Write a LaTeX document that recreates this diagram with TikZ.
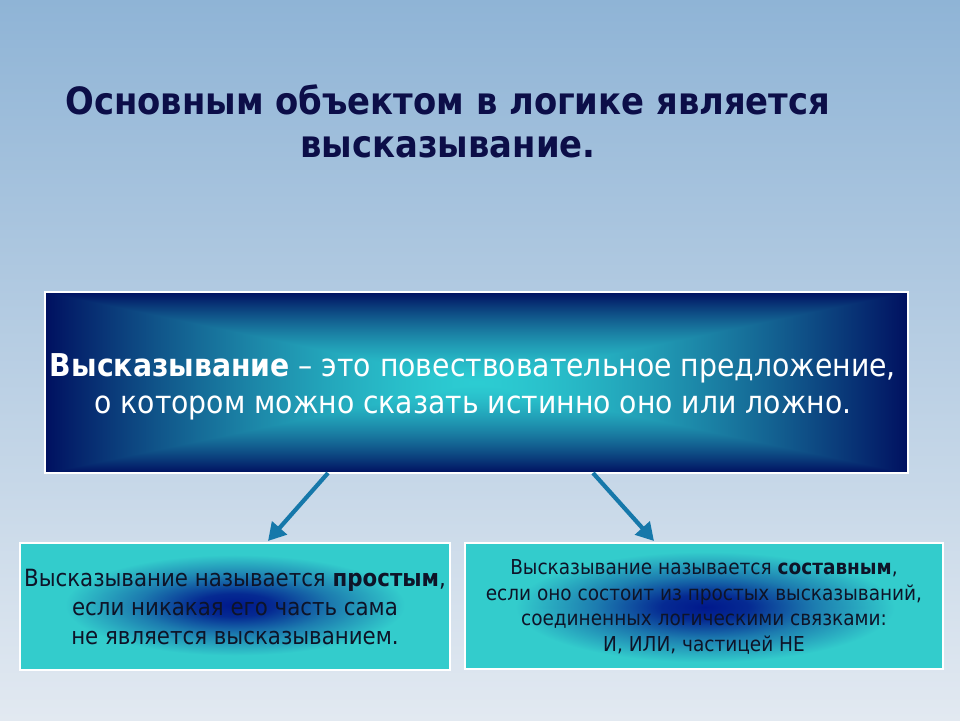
\documentclass[tikz,border=0pt]{standalone}
\usepackage{fontspec}
\setmainfont{DejaVu Sans Condensed}
\usetikzlibrary{arrows.meta}
\definecolor{bgtop}{RGB}{143,180,214}
\definecolor{bgbot}{RGB}{226,233,241}
\definecolor{turq}{RGB}{51,204,204}
\definecolor{blob}{RGB}{0,24,140}
\definecolor{titlec}{RGB}{12,14,72}
\definecolor{textc}{RGB}{14,20,40}
\definecolor{arrowc}{RGB}{22,120,170}
% navy edges, cyan centre
\pgfdeclarefunctionalshading{boxglow}{\pgfpoint{-50bp}{-50bp}}{\pgfpoint{50bp}{50bp}}{}{
  abs exch abs 2 copy lt {exch} if pop 25 div dup 1 gt {pop 1} if dup sqrt mul
  dup dup
  -0.448 mul 0.824 add
  3 1 roll
  -0.737 mul 0.8 add
  exch
  -0.173 mul 0.173 add
  3 1 roll exch
}
\pgfdeclareradialshading{blobshade}{\pgfpointorigin}{color(0bp)=(blob); color(4bp)=(blob!90!turq); color(10bp)=(blob!45!turq); color(17.5bp)=(turq); color(25bp)=(turq); color(50bp)=(turq)}

\begin{document}
\begin{tikzpicture}[x=0.02cm, y=-0.02cm,
    frame/.style={draw=white, line width=0.6pt},
    txt/.style={align=center, inner sep=0pt},
    link/.style={arrowc, line width=2.4pt, -{Triangle[length=10pt, width=11pt]}}]
      \useasboundingbox (0,0) rectangle (960,720);
      \shade[top color=bgtop, bottom color=bgbot] (0,0) rectangle (960,720);

      \node[txt, titlec, font=\fontsize{21.4}{24.5}\selectfont\bfseries] (title) at (448,121) {Основным объектом в логике является\\высказывание.};

      % main box
      \shade[shading=boxglow] (45,292) rectangle (908,473);
      \draw[frame] (45,292) rectangle (908,473);
      \node[txt, white, font=\fontsize{17.9}{21}\selectfont] (defn) at (473,387) {\textbf{Высказывание} – это повествовательное предложение,\\о котором можно сказать истинно оно или ложно.};

      % bottom boxes
      \fill[turq] (20,543) rectangle (450,670);
      \begin{scope}
        \clip (20,543) rectangle (450,670);
        \shade[shading=blobshade] (235,605) ellipse (243 and 72);
      \end{scope}
      \draw[frame] (20,543) rectangle (450,670);
      \node[txt, textc, font=\fontsize{13.5}{16.5}\selectfont] (simple) at (235,607) {Высказывание называется \textbf{простым},\\если никакая его часть сама\\не является высказыванием.};

      \fill[turq] (465,543) rectangle (943,669);
      \begin{scope}
        \clip (465,543) rectangle (943,669);
        \shade[shading=blobshade] (705,607) ellipse (271 and 79);
      \end{scope}
      \draw[frame] (465,543) rectangle (943,669);
      \node[txt, textc, font=\fontsize{11.7}{14.5}\selectfont] (compound) at (704,607) {Высказывание называется \textbf{составным},\\если оно состоит из простых высказываний,\\соединенных логическими связками:\\И, ИЛИ, частицей НЕ};

      \coordinate (a1s) at (328,473);
      \coordinate (a1e) at (268,541);
      \coordinate (a2s) at (593,473);
      \coordinate (a2e) at (654,541);
      \draw[link] (a1s) -- (a1e);
      \draw[link] (a2s) -- (a2e);
    \end{tikzpicture}
\end{document}
